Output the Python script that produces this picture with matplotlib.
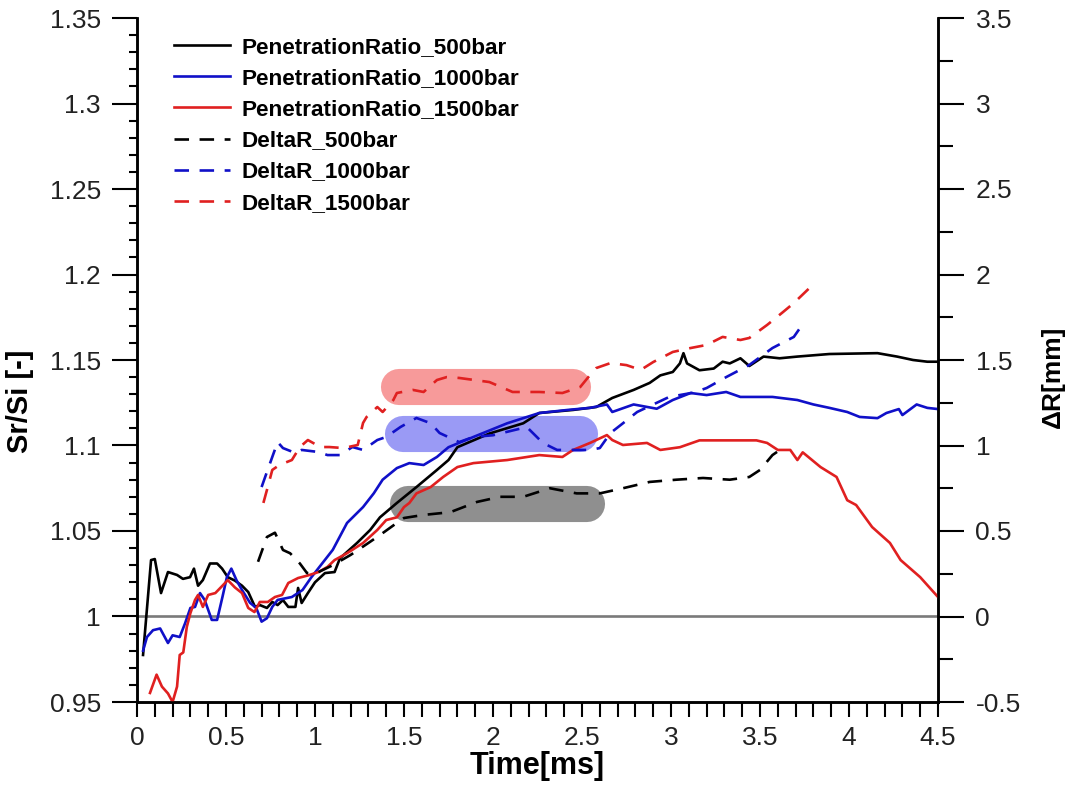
import matplotlib
matplotlib.use("Agg")
import matplotlib.pyplot as plt
from matplotlib.ticker import MultipleLocator

plt.rcParams['font.family'] = ['Liberation Sans', 'DejaVu Sans']

# PenetrationRatio (left axis)
t_pr500 = [0.034, 0.079, 0.10, 0.135, 0.174, 0.225, 0.258, 0.298, 0.32, 0.343, 0.37, 0.41, 0.45, 0.478,
           0.51, 0.55, 0.59, 0.625, 0.663, 0.69, 0.73, 0.76, 0.79, 0.82, 0.85, 0.89, 0.905, 0.925, 0.96,
           1.0, 1.056, 1.11, 1.14, 1.236, 1.31, 1.365, 1.46, 1.57, 1.685, 1.75, 1.80, 1.98, 2.17, 2.26,
           2.45, 2.58, 2.67, 2.79, 2.88, 2.94, 3.01, 3.05, 3.07, 3.09, 3.16, 3.24, 3.29, 3.33, 3.39, 3.44,
           3.52, 3.61, 3.71, 3.89, 4.16, 4.27, 4.36, 4.44, 4.5]
pr500 = [0.9775, 1.033, 1.0336, 1.0137, 1.026, 1.0243, 1.022, 1.023, 1.028, 1.018, 1.0213, 1.031, 1.031,
         1.028, 1.023, 1.021, 1.018, 1.0143, 1.0056, 1.0067, 1.005, 1.0085, 1.0067, 1.0096, 1.0056, 1.0056,
         1.0167, 1.0079, 1.0137, 1.02, 1.0254, 1.026, 1.034, 1.043, 1.0506, 1.058, 1.0664, 1.0757, 1.0857,
         1.0915, 1.099, 1.107, 1.113, 1.119, 1.1208, 1.1225, 1.1278, 1.1325, 1.1366, 1.141, 1.143, 1.148,
         1.154, 1.148, 1.144, 1.145, 1.149, 1.148, 1.151, 1.1465, 1.152, 1.151, 1.152, 1.1535, 1.154, 1.152,
         1.15, 1.149, 1.149]

t_pr1000 = [0.034, 0.056, 0.09, 0.13, 0.174, 0.20, 0.24, 0.27, 0.30, 0.326, 0.354, 0.38, 0.42, 0.45, 0.48,
            0.505, 0.53, 0.56, 0.59, 0.635, 0.67, 0.70, 0.73, 0.76, 0.79, 0.87, 0.93, 0.98, 1.04, 1.10, 1.18,
            1.27, 1.33, 1.38, 1.46, 1.53, 1.61, 1.685, 1.75, 1.89, 2.08, 2.26, 2.42, 2.545, 2.64, 2.67, 2.79,
            2.92, 3.01, 3.11, 3.20, 3.31, 3.39, 3.57, 3.71, 3.80, 3.89, 3.99, 4.06, 4.16, 4.21, 4.28, 4.30,
            4.38, 4.44, 4.5]
pr1000 = [0.980, 0.988, 0.992, 0.993, 0.9845, 0.989, 0.988, 0.996, 1.005, 1.0056, 1.0137, 1.0097, 0.998,
          0.998, 1.0114, 1.023, 1.028, 1.021, 1.0155, 1.008, 1.005, 0.997, 0.999, 1.0056, 1.0097, 1.0114,
          1.0155, 1.023, 1.031, 1.039, 1.0547, 1.064, 1.072, 1.080, 1.0868, 1.0897, 1.0886, 1.0933, 1.099,
          1.105, 1.113, 1.119, 1.1208, 1.122, 1.124, 1.1196, 1.124, 1.1215, 1.1266, 1.1307, 1.1295, 1.1313,
          1.1284, 1.1284, 1.1266, 1.124, 1.122, 1.1196, 1.1167, 1.116, 1.119, 1.1213, 1.1178, 1.124, 1.122,
          1.1213]

t_pr1500 = [0.073, 0.11, 0.14, 0.174, 0.20, 0.225, 0.24, 0.26, 0.28, 0.30, 0.326, 0.343, 0.37, 0.40, 0.44,
            0.48, 0.51, 0.55, 0.59, 0.625, 0.66, 0.69, 0.735, 0.775, 0.815, 0.85, 0.905, 0.96, 1.02, 1.07,
            1.11, 1.18, 1.27, 1.35, 1.40, 1.46, 1.50, 1.53, 1.57, 1.65, 1.72, 1.80, 1.89, 2.08, 2.26, 2.39,
            2.45, 2.545, 2.64, 2.67, 2.73, 2.865, 2.94, 3.05, 3.16, 3.28, 3.39, 3.48, 3.54, 3.60, 3.67, 3.71,
            3.74, 3.84, 3.93, 3.99, 4.04, 4.13, 4.23, 4.29, 4.40, 4.5]
pr1500 = [0.9553, 0.966, 0.959, 0.955, 0.950, 0.959, 0.9775, 0.979, 0.994, 1.002, 1.0097, 1.0126, 1.0056,
          1.0126, 1.0137, 1.018, 1.0213, 1.017, 1.0137, 1.005, 1.0026, 1.0085, 1.0085, 1.0114, 1.0126, 1.0196,
          1.0225, 1.024, 1.026, 1.029, 1.033, 1.037, 1.043, 1.0506, 1.0564, 1.058, 1.064, 1.0664, 1.072,
          1.0757, 1.0816, 1.0874, 1.0897, 1.0915, 1.0944, 1.0933, 1.0974, 1.1015, 1.1061, 1.1032, 1.1003,
          1.1015, 1.0974, 1.099, 1.103, 1.103, 1.103, 1.103, 1.1015, 1.0974, 1.0974, 1.0915, 1.096, 1.0874,
          1.0816, 1.068, 1.0652, 1.0523, 1.043, 1.033, 1.023, 1.0114]

# DeltaR (right axis)
t_dr500 = [0.68, 0.73, 0.775, 0.82, 0.86, 0.915, 0.955, 1.0, 1.1, 1.2, 1.3, 1.37, 1.45, 1.50, 1.61, 1.76,
           1.91, 2.04, 2.17, 2.32, 2.47, 2.60, 2.73, 2.88, 3.03, 3.18, 3.33, 3.44, 3.50, 3.57, 3.62]
dr500 = [0.32, 0.465, 0.49, 0.389, 0.37, 0.31, 0.254, 0.25, 0.30, 0.36, 0.43, 0.48, 0.54, 0.576, 0.594,
         0.61, 0.67, 0.70, 0.70, 0.75, 0.72, 0.72, 0.75, 0.787, 0.80, 0.81, 0.80, 0.816, 0.857, 0.944, 0.98]

t_dr1000 = [0.70, 0.72, 0.76, 0.79, 0.82, 0.89, 0.925, 1.02, 1.07, 1.14, 1.21, 1.27, 1.35, 1.40, 1.48, 1.57,
            1.65, 1.70, 1.81, 1.89, 2.0, 2.19, 2.28, 2.36, 2.45, 2.545, 2.60, 2.66, 2.73, 2.81, 2.99, 3.13,
            3.20, 3.31, 3.44, 3.57, 3.69, 3.72]
dr1000 = [0.757, 0.816, 0.933, 1.02, 0.985, 0.956, 0.974, 0.962, 0.944, 0.944, 0.991, 0.974, 1.032, 1.05,
          1.108, 1.161, 1.13, 1.073, 1.02, 1.05, 1.06, 1.108, 1.015, 0.974, 0.974, 0.974, 0.985, 1.073, 1.13,
          1.196, 1.284, 1.31, 1.336, 1.40, 1.471, 1.57, 1.635, 1.68]

t_dr1500 = [0.71, 0.73, 0.76, 0.80, 0.87, 0.915, 0.96, 1.03, 1.08, 1.16, 1.24, 1.27, 1.29, 1.35, 1.38, 1.44,
            1.46, 1.55, 1.61, 1.685, 1.74, 1.81, 1.98, 2.11, 2.26, 2.39, 2.49, 2.545, 2.58, 2.66, 2.75, 2.83,
            2.90, 3.01, 3.11, 3.20, 3.29, 3.39, 3.44, 3.54, 3.63, 3.69, 3.79]
dr1500 = [0.664, 0.74, 0.857, 0.886, 0.915, 0.991, 1.032, 0.991, 0.991, 0.985, 1.003, 1.132, 1.167, 1.225,
          1.196, 1.266, 1.307, 1.325, 1.313, 1.383, 1.40, 1.395, 1.371, 1.313, 1.313, 1.307, 1.342, 1.412,
          1.453, 1.482, 1.47, 1.442, 1.488, 1.547, 1.57, 1.588, 1.635, 1.617, 1.629, 1.705, 1.781, 1.833,
          1.933]

# highlight bands (centre line, left axis units)
band_x0 = [1.47, 1.497, 1.524]
band_x1 = [2.45, 2.486, 2.526]
band_y = [1.1345, 1.1065, 1.066]
band_colors = ['#f79a9a', '#9a9af5', '#8f8f8f']

x_ticks = [0, 0.5, 1, 1.5, 2, 2.5, 3, 3.5, 4, 4.5]
x_labels = ['0', '0.5', '1', '1.5', '2', '2.5', '3', '3.5', '4', '4.5']
yl_ticks = [0.95, 1.0, 1.05, 1.1, 1.15, 1.2, 1.25, 1.3, 1.35]
yl_labels = ['0.95', '1', '1.05', '1.1', '1.15', '1.2', '1.25', '1.3', '1.35']
yr_ticks = [-0.5, 0, 0.5, 1, 1.5, 2, 2.5, 3, 3.5]
yr_labels = ['-0.5', '0', '0.5', '1', '1.5', '2', '2.5', '3', '3.5']

fig = plt.figure(figsize=(10.68, 7.93), dpi=100)
ax = fig.add_axes([137 / 1068, 1 - 702 / 793, (938 - 137) / 1068, (702 - 18) / 793])
ax2 = ax.twinx()

for x0, x1, yc, c in zip(band_x0, band_x1, band_y, band_colors):
    ax.plot([x0, x1], [yc, yc], color=c, lw=26, solid_capstyle='round', zorder=1)

ax.axhline(1.0, color='#7a7a7a', lw=1.9, zorder=2)

lw = 1.9
h1, = ax.plot(t_pr500, pr500, color='black', lw=lw, zorder=3, label='PenetrationRatio_500bar')
h2, = ax.plot(t_pr1000, pr1000, color='#1010c8', lw=lw, zorder=3, label='PenetrationRatio_1000bar')
h3, = ax.plot(t_pr1500, pr1500, color='#e02020', lw=lw, zorder=3, label='PenetrationRatio_1500bar')
dash = (0, (5.5, 4))
h4, = ax2.plot(t_dr500, dr500, color='black', lw=lw, ls=dash, label='DeltaR_500bar')
h5, = ax2.plot(t_dr1000, dr1000, color='#1010c8', lw=lw, ls=dash, label='DeltaR_1000bar')
h6, = ax2.plot(t_dr1500, dr1500, color='#e02020', lw=lw, ls=dash, label='DeltaR_1500bar')

ax.set_xlim(0, 4.5)
ax.set_ylim(0.95, 1.35)
ax2.set_ylim(-0.5, 3.5)

for a in (ax, ax2):
    a.spines['top'].set_visible(False)
    for s in a.spines.values():
        s.set_linewidth(1.8)

ax.xaxis.set_minor_locator(MultipleLocator(0.1))
ax.yaxis.set_minor_locator(MultipleLocator(0.01))
ax2.yaxis.set_minor_locator(MultipleLocator(0.25))

ax.set_xticks(x_ticks)
ax.set_xticklabels(x_labels)
ax.set_yticks(yl_ticks)
ax.set_yticklabels(yl_labels)
ax2.set_yticks(yr_ticks)
ax2.set_yticklabels(yr_labels)

tick_col = '#222222'
ax.tick_params(axis='x', which='both', direction='out', length=11, width=1.5, pad=6)
ax.tick_params(axis='x', which='major', labelsize=19, labelcolor=tick_col)
ax.tick_params(axis='y', which='major', direction='out', length=18, width=1.5, pad=8, labelsize=19,
               labelcolor=tick_col)
ax.tick_params(axis='y', which='minor', direction='out', length=6, width=1.5)
ax2.tick_params(axis='y', which='major', direction='out', length=19, width=1.5, pad=8, labelsize=19,
                labelcolor=tick_col)
ax2.tick_params(axis='y', which='minor', direction='out', length=11, width=1.5)

ax.set_xlabel('Time[ms]', fontsize=22, fontweight='bold')
ax.xaxis.set_label_coords(0.5, -0.072)
ax.set_ylabel('Sr/Si [-]', fontsize=21, fontweight='bold')
ax.yaxis.set_label_coords(-0.128, 0.44)
ax2.set_ylabel('ΔR[mm]', fontsize=19, fontweight='bold')
ax2.yaxis.set_label_coords(1.128, 0.475)

leg = ax2.legend(handles=[h1, h2, h3, h4, h5, h6], loc='upper left', bbox_to_anchor=(165 / 1068, 1 - 28 / 793),
                 bbox_transform=fig.transFigure, frameon=False, prop={'size': 16.2, 'weight': 'bold'},
                 handlelength=2.5, handletextpad=0.5, labelspacing=0.45, borderaxespad=0)

fig.savefig('out.png', dpi=100)
